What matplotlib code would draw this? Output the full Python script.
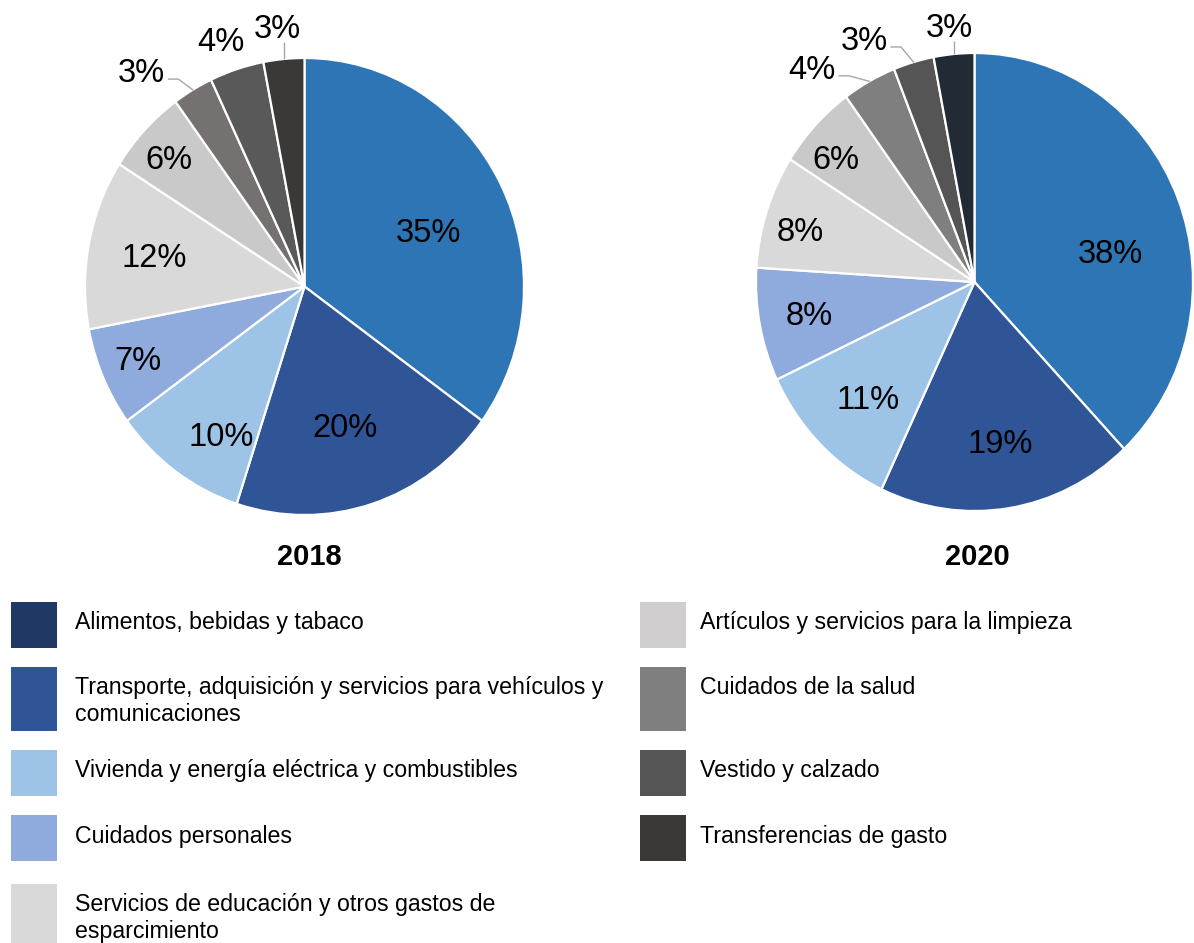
import numpy as np
import matplotlib
matplotlib.use("Agg")
import matplotlib.pyplot as plt
from matplotlib.patches import Rectangle

plt.rcParams['font.family'] = ['Liberation Sans', 'DejaVu Sans']

# ---------------- data ----------------
years = ["2018", "2020"]
values_2018 = [35, 20, 10, 7, 12, 6, 3, 4, 3]
values_2020 = [38, 19, 11, 8, 8, 6, 4, 3, 3]

colors_2018 = ['#2E75B6', '#2F5597', '#9DC3E6', '#8FAADC', '#D9D9D9',
               '#C9C9C9', '#767171', '#595959', '#3B3838']
colors_2020 = ['#2E75B6', '#2F5597', '#9DC3E6', '#8FAADC', '#D9D9D9',
               '#C9C9C9', '#7F7F7F', '#555555', '#222A35']

legend_left = ["Alimentos, bebidas y tabaco",
               "Transporte, adquisición y servicios para vehículos y\ncomunicaciones",
               "Vivienda y energía eléctrica y combustibles",
               "Cuidados personales",
               "Servicios de educación y otros gastos de\nesparcimiento"]
legend_left_colors = ['#203864', '#2F5597', '#9DC3E6', '#8FAADC', '#D9D9D9']
legend_right = ["Artículos y servicios para la limpieza",
                "Cuidados de la salud",
                "Vestido y calzado",
                "Transferencias de gasto"]
legend_right_colors = ['#D0CECE', '#7F7F7F', '#555555', '#3B3838']

# ---------------- layout / style ----------------
W, H = 1194, 943
fig = plt.figure(figsize=(W / 100, H / 100), dpi=100)


def fx(x):
    return x / W


def fy(y):
    return 1 - y / H


# per-slice label placement: (radius, angle offset deg, leader type)
place_2018 = [(0.62, -3, None), (0.63, -1, None), (0.744, 5.3, None), (0.82, -1.4, None),
              (0.70, -1, None), (0.84, 0.4, None),
              (1.209, 7.4, 'elbow'), (1.152, 1.4, None), (1.151, 0.8, 'vertical')]
place_2020 = [(0.636, -8.7, None), (0.70, 0.7, None), (0.695, 0.5, None), (0.77, -1, None),
              (0.83, 1.6, None), (0.84, 2.2, None),
              (1.203, 9.4, 'elbow'), (1.185, 9.1, 'elbow'), (1.135, 0.5, 'vertical')]

axes_px = [(85, 58, 524, 515), (756, 53, 1193, 511)]
title_pos = [(309.5, 557), (977.5, 557)]
pct_size = 23.5
text_dy = -0.02


def draw_pie(axpx, vals, cols, places, year, tpos):
    x0, y0, x1, y1 = axpx
    ax = fig.add_axes([fx(x0), fy(y1), (x1 - x0) / W, (y1 - y0) / H])
    wedges, _ = ax.pie(vals, colors=cols, startangle=90, counterclock=False,
                       radius=1.0,
                       wedgeprops=dict(edgecolor='white', linewidth=1.6))
    ax.set_aspect('auto')
    ax.set_xlim(-1, 1)
    ax.set_ylim(-1, 1)
    ax.axis('off')
    for w, v, (r, dth, lead) in zip(wedges, vals, places):
        mid = 0.5 * (w.theta1 + w.theta2)
        ang = np.deg2rad(mid + dth)
        tx, ty = r * np.cos(ang), r * np.sin(ang)
        ax.text(tx, ty + text_dy, f"{v:.0f}%", ha='center', va='center',
                fontsize=pct_size, color='black', clip_on=False)
        ex, ey = np.cos(np.deg2rad(mid)), np.sin(np.deg2rad(mid))
        if lead == 'vertical':
            ax.plot([ex, ex], [ey, ty - 0.075], color='#A6A6A6', lw=1.0,
                    clip_on=False, solid_capstyle='butt')
        elif lead == 'elbow':
            ly = ty - 0.045
            endx = tx + 0.125
            kx = endx + 0.045
            ax.plot([endx, kx, ex], [ly, ly, ey], color='#A6A6A6', lw=1.0,
                    clip_on=False)
    fig.text(fx(tpos[0]), fy(tpos[1]), year, ha='center', va='center',
             fontsize=21, fontweight='bold')
    return ax


draw_pie(axes_px[0], values_2018, colors_2018, place_2018, years[0], title_pos[0])
draw_pie(axes_px[1], values_2020, colors_2020, place_2020, years[1], title_pos[1])

# ---------------- legend ----------------
left_rows = [(602, 648), (667, 731), (750, 796), (815, 861), (884, 943)]
right_rows = [(602, 648), (667, 731), (750, 796), (815, 861)]
leg_font = 16.7


def draw_legend(x_box, x_text, rows, labels, cols):
    for (ya, yb), lab, c in zip(rows, labels, cols):
        fig.patches.append(Rectangle((fx(x_box), fy(yb)), 46 / W, (yb - ya) / H,
                                     transform=fig.transFigure, facecolor=c,
                                     edgecolor='none'))
        n = lab.count("\n") + 1
        cy = ya + 21 + (n - 1) * 13
        fig.text(fx(x_text), fy(cy), lab, ha='left', va='center',
                 fontsize=leg_font, linespacing=1.22, color='black')


draw_legend(11, 75, left_rows, legend_left, legend_left_colors)
draw_legend(640, 700, right_rows, legend_right, legend_right_colors)

fig.savefig("out.png", dpi=100)
